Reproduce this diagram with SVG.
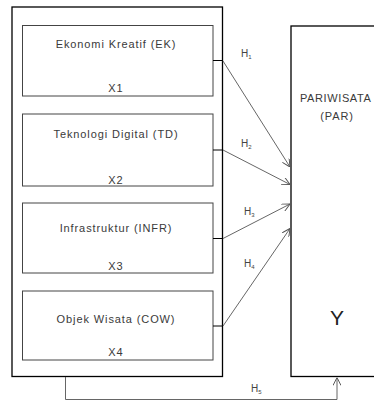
<svg xmlns="http://www.w3.org/2000/svg" width="374" height="401" viewBox="0 0 374 401">
<defs>
<marker id="ah" viewBox="0 0 10 10" refX="10" refY="5" markerWidth="8" markerHeight="8" markerUnits="userSpaceOnUse" orient="auto">
<path d="M0,0 L10,5 L0,10" fill="none" stroke="#555" stroke-width="1.2"/>
</marker>
<style>
.outer{fill:#fff;stroke:#000;stroke-width:1.3}
.inner{fill:#fff;stroke:#444;stroke-width:1}
.t{font-family:"Liberation Sans",Arial,sans-serif;font-size:11px;fill:#3a3a3a;text-anchor:middle;letter-spacing:0.9px}
.h{font-family:"Liberation Sans",Arial,sans-serif;font-size:10px;fill:#444}
.sub{font-size:6px}
.c{fill:none;stroke:#555;stroke-width:0.9}
.p{fill:none;stroke:#000;stroke-width:1}
</style>
</defs>
<rect width="374" height="401" fill="#fff"/>
<g id="outer-box"><rect class="outer" x="12" y="7" width="210.5" height="369.5"/></g>
<g id="EK"><rect class="inner" x="22.5" y="25.5" width="190.5" height="70.5"/><text class="t" x="116" y="48">Ekonomi Kreatif (EK)</text><text class="t" x="116" y="92">X1</text></g>
<g id="TD"><rect class="inner" x="22.5" y="114" width="190.5" height="72"/><text class="t" x="116" y="138">Teknologi Digital (TD)</text><text class="t" x="116" y="184">X2</text></g>
<g id="INFR"><rect class="inner" x="22.5" y="203" width="190.5" height="70"/><text class="t" x="116" y="232">Infrastruktur (INFR)</text><text class="t" x="116" y="270">X3</text></g>
<g id="COW"><rect class="inner" x="22.5" y="291" width="190.5" height="69"/><text class="t" x="116" y="323">Objek Wisata (COW)</text><text class="t" x="116" y="356">X4</text></g>
<g id="PAR"><rect class="outer" x="291" y="26" width="100" height="350.5"/><text class="t" x="300" y="102" style="text-anchor:start;letter-spacing:0.6px">PARIWISATA</text><text class="t" x="337" y="120">(PAR)</text><text x="337" y="325" text-anchor="middle" font-family="Liberation Sans,Arial,sans-serif" font-size="21" fill="#222">Y</text></g>
<g id="connectors">
<line class="p" x1="213" y1="60.5" x2="222.5" y2="60.5"/>
<line class="p" x1="213" y1="150" x2="222.5" y2="150"/>
<line class="p" x1="213" y1="238.5" x2="222.5" y2="238.5"/>
<line class="p" x1="213" y1="326" x2="222.5" y2="326"/>
<line class="c" x1="223" y1="61" x2="290" y2="167" marker-end="url(#ah)"/>
<line class="c" x1="223" y1="150" x2="290" y2="184.5" marker-end="url(#ah)"/>
<line class="c" x1="223" y1="238.5" x2="290" y2="204" marker-end="url(#ah)"/>
<line class="c" x1="223" y1="326" x2="290" y2="228.5" marker-end="url(#ah)"/>
<polyline class="c" points="65.5,377 65.5,399.5 337,399.5 337,377.5" marker-end="url(#ah)"/>
</g>
<g id="labels">
<text class="h" x="241" y="57">H<tspan class="sub" dy="2">1</tspan></text>
<text class="h" x="241" y="147">H<tspan class="sub" dy="2">2</tspan></text>
<text class="h" x="244" y="215">H<tspan class="sub" dy="2">3</tspan></text>
<text class="h" x="244" y="267">H<tspan class="sub" dy="2">4</tspan></text>
<text class="h" x="251" y="392">H<tspan class="sub" dy="2">5</tspan></text>
</g>
</svg>
